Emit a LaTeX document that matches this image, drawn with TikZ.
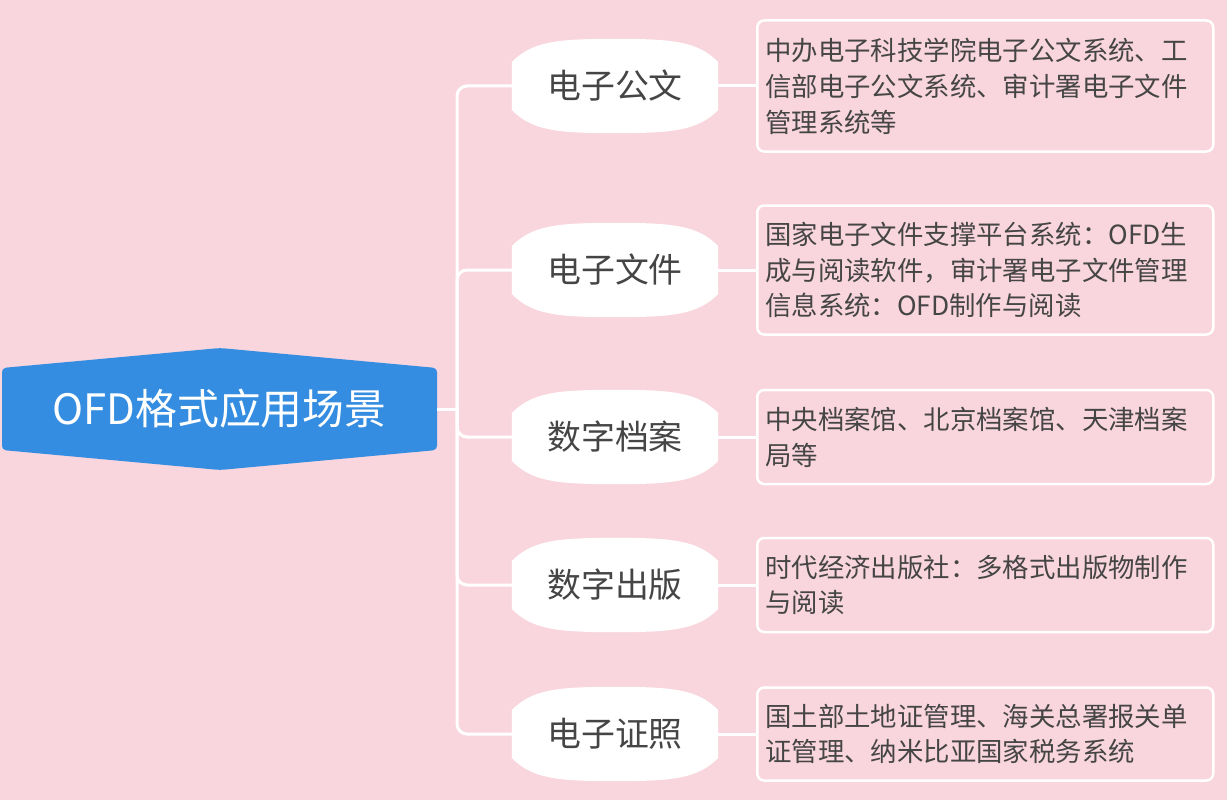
\documentclass[tikz,border=0pt]{standalone}
\usepackage{fontspec}
\setmainfont{Noto Sans CJK SC}
\usetikzlibrary{backgrounds,calc}
\definecolor{bg}{HTML}{F9D6DE}
\definecolor{rootblue}{HTML}{348DE0}
\definecolor{txt}{HTML}{454545}
\tikzset{
  lnk/.style={draw=white,line width=3bp,rounded corners=10bp},
  br/.style={text=txt,font=\fontsize{34}{40}\selectfont,minimum width=206bp,minimum height=94bp,inner sep=0},
  leaf/.style={draw=white,line width=2.5bp,rounded corners=7bp,text=txt,font=\fontsize{26.5}{36}\selectfont,
    minimum width=456bp,text width=440bp,align=left,inner sep=0,anchor=west},
}
\newcommand\brshape[1]{%
  \fill[white] ($(#1.west)+(0,-24)$) .. controls +(20,-20) and +(-60,0) .. (#1.north)
   .. controls +(60,0) and +(-20,-20) .. ($(#1.east)+(0,-24)$) -- ($(#1.east)+(0,24)$)
   .. controls +(-20,20) and +(60,0) .. (#1.south) .. controls +(-60,0) and +(20,20) .. ($(#1.west)+(0,24)$) -- cycle;}
\begin{document}
\begin{tikzpicture}[x=1bp,y=-1bp]
\useasboundingbox (0,0) rectangle (1227,800);
\fill[rootblue,rounded corners=4bp] (2,368) -- (220,348) -- (437,368) -- (437,450) -- (220,470) -- (2,450) -- cycle;
\node[text=white,font=\fontsize{42}{46}\selectfont] (root) at (219.5,409) {OFD格式应用场景};
\coordinate (sp) at (457,409);
\node[br] (b1) at (615,86) {电子公文};
\node[br] (b2) at (615,270) {电子文件};
\node[br] (b3) at (615,437) {数字档案};
\node[br] (b4) at (615,585) {数字出版};
\node[br] (b5) at (615,734) {电子证照};
\begin{scope}[on background layer]
\fill[bg] (0,0) rectangle (1227,800);
\foreach \b in {b1,b2,b3,b4,b5}{\brshape{\b}}
\end{scope}
\node[leaf,minimum height=131bp] (l1) at (756,86) {中办电子科技学院电子公文系统、工\\信部电子公文系统、审计署电子文件\\管理系统等};
\node[leaf,minimum height=129bp] (l2) at (756,270) {国家电子文件支撑平台系统：OFD生\\成与阅读软件，审计署电子文件管理\\信息系统：OFD制作与阅读};
\node[leaf,minimum height=94bp] (l3) at (756,437) {中央档案馆、北京档案馆、天津档案\\局等};
\node[leaf,minimum height=94bp] (l4) at (756,585) {时代经济出版社：多格式出版物制作\\与阅读};
\node[leaf,minimum height=93bp] (l5) at (756,734) {国土部土地证管理、海关总署报关单\\证管理、纳米比亚国家税务系统};
\draw[lnk] (437,409) -- (sp);
\foreach \i in {1,...,5}{
  \draw[lnk] (sp) |- (b\i.west);
  \draw[lnk] (b\i.east) -- (l\i.west);
}
\end{tikzpicture}
\end{document}
